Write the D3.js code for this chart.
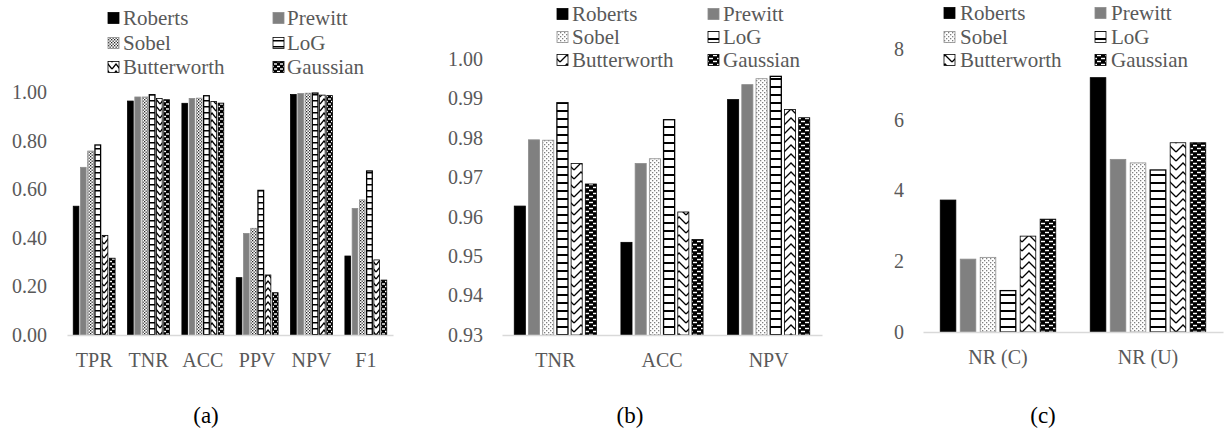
<!DOCTYPE html>
<html lang="en">
<head>
<meta charset="utf-8" />
<title>Edge detector comparison</title>
<script src="https://cdnjs.cloudflare.com/ajax/libs/d3/7.8.5/d3.min.js"></script>
<style>
  body { margin: 0; background: #fff; }
  svg text { font-family: "Liberation Serif", "Times New Roman", serif; }
</style>
</head>
<body>
<div id="chart"></div>
<script>
// series, in legend order
const series = ['Roberts', 'Prewitt', 'Sobel', 'LoG', 'Butterworth', 'Gaussian'];

// (a) all metrics
const catsA = ['TPR', 'TNR', 'ACC', 'PPV', 'NPV', 'F1'];
const robertsA     = [0.530, 0.9627, 0.9535, 0.236, 0.9897, 0.325];
const prewittA     = [0.690, 0.9795, 0.9735, 0.418, 0.9935, 0.521];
const sobelA       = [0.757, 0.9794, 0.9747, 0.439, 0.9950, 0.556];
const logA         = [0.782, 0.9889, 0.9846, 0.595, 0.9956, 0.675];
const butterworthA = [0.410, 0.9735, 0.9612, 0.247, 0.9872, 0.309];
const gaussianA    = [0.316, 0.9683, 0.9542, 0.174, 0.9851, 0.226];
const ticksA = [0, 0.2, 0.4, 0.6, 0.8, 1.0];

// (b) close-up of TNR, ACC, NPV
const catsB = ['TNR', 'ACC', 'NPV'];
const robertsB     = [0.9627, 0.9535, 0.9897];
const prewittB     = [0.9795, 0.9735, 0.9935];
const sobelB       = [0.9794, 0.9747, 0.9950];
const logB         = [0.9889, 0.9846, 0.9956];
const butterworthB = [0.9735, 0.9612, 0.9872];
const gaussianB    = [0.9683, 0.9542, 0.9851];
const ticksB = [0.93, 0.94, 0.95, 0.96, 0.97, 0.98, 0.99, 1.00];

// (c) noise ratio
const catsC = ['NR (C)', 'NR (U)'];
const robertsC     = [3.73, 7.19];
const prewittC     = [2.06, 4.88];
const sobelC       = [2.11, 4.78];
const logC         = [1.17, 4.58];
const butterworthC = [2.71, 5.35];
const gaussianC    = [3.19, 5.35];
const ticksC = [0, 2, 4, 6, 8];

const W = 1225, H = 444;
const textGray = '#595959';
const strokes = ['#000', '#8c8c8c', '#8c8c8c', '#000', '#000', '#000'];

const svg = d3.select('#chart').append('svg')
  .attr('width', W).attr('height', H);
const defs = svg.append('defs');

// Excel-like pattern fills, one set per panel (small = for the narrow bars)
function makePatterns(id, small) {
  const sob = defs.append('pattern').attr('id', id + '-2')
    .attr('patternUnits', 'userSpaceOnUse')
    .attr('width', small ? 3 : 4).attr('height', small ? 3 : 4);
  sob.append('rect').attr('width', 4).attr('height', 4).attr('fill', '#fff');
  sob.append('rect').attr('width', 1.3).attr('height', 1.3).attr('fill', small ? '#222' : '#7f7f7f');
  sob.append('rect').attr('x', small ? 1.5 : 2).attr('y', small ? 1.5 : 2)
    .attr('width', 1.3).attr('height', 1.3).attr('fill', small ? '#222' : '#7f7f7f');

  const lh = small ? 6 : 8;
  const lg = defs.append('pattern').attr('id', id + '-3')
    .attr('patternUnits', 'userSpaceOnUse').attr('width', 4).attr('height', lh);
  lg.append('rect').attr('width', 4).attr('height', lh).attr('fill', '#fff');
  lg.append('rect').attr('y', lh - 2).attr('width', 4).attr('height', small ? 1.5 : 2).attr('fill', '#000');

  const bw = small ? 8 : 14, bh = small ? 7 : 9;
  const bt = defs.append('pattern').attr('id', id + '-4')
    .attr('patternUnits', 'userSpaceOnUse').attr('width', bw).attr('height', bh);
  bt.append('rect').attr('width', bw).attr('height', bh).attr('fill', '#fff');
  bt.append('path').attr('d', `M0,${bh - 1} L${bw / 2},1 L${bw},${bh - 1}`)
    .attr('fill', 'none').attr('stroke', '#000').attr('stroke-width', 1.3);

  const gw = small ? 6 : 8, gh = small ? 5 : 6;
  const gs = defs.append('pattern').attr('id', id + '-5')
    .attr('patternUnits', 'userSpaceOnUse').attr('width', gw).attr('height', gh);
  gs.append('rect').attr('width', gw).attr('height', gh).attr('fill', '#000');
  gs.append('rect').attr('x', 1).attr('y', 0.8).attr('width', gw / 2).attr('height', 1.4).attr('fill', '#fff');
  gs.append('rect').attr('x', gw / 2 + 1).attr('y', gh / 2 + 0.8).attr('width', gw / 2 - 1).attr('height', 1.4).attr('fill', '#fff');
  gs.append('rect').attr('x', 0).attr('y', gh / 2 + 0.8).attr('width', 1).attr('height', 1.4).attr('fill', '#fff');

  return ['#000', '#808080', `url(#${id}-2)`, `url(#${id}-3)`, `url(#${id}-4)`, `url(#${id}-5)`];
}

const panels = [
  {
    id: 'pa', label: '(a)', cats: catsA, small: true,
    values: [robertsA, prewittA, sobelA, logA, butterworthA, gaussianA],
    yDomain: [0, 1], yRange: [335, 92], ticks: ticksA, fmt: d3.format('.2f'),
    xRange: [67, 393], yAxisX: 47, labelX: 206,
    legSq: [108, 273], legTx: [123, 287], legY: [18, 43, 67]
  },
  {
    id: 'pb', label: '(b)', cats: catsB, small: false,
    values: [robertsB, prewittB, sobelB, logB, butterworthB, gaussianB],
    yDomain: [0.93, 1.0], yRange: [335, 59], ticks: ticksB, fmt: d3.format('.2f'),
    xRange: [502, 822], yAxisX: 483, labelX: 630,
    legSq: [557, 708], legTx: [572, 723], legY: [14, 37, 60]
  },
  {
    id: 'pc', label: '(c)', cats: catsC, small: false,
    values: [robertsC, prewittC, sobelC, logC, butterworthC, gaussianC],
    yDomain: [0, 8], yRange: [332, 49], ticks: ticksC, fmt: d3.format('d'),
    xRange: [923, 1223], yAxisX: 904, labelX: 1043,
    legSq: [944, 1095], legTx: [960, 1111], legY: [13, 37, 60]
  }
];

panels.forEach(p => {
  const fills = makePatterns(p.id, p.small);
  const x0 = d3.scaleBand().domain(p.cats).range(p.xRange)
    .paddingInner(0.23).paddingOuter(0.115);
  const x1 = d3.scaleBand().domain(series).range([0, x0.bandwidth()]).paddingInner(0.22);
  const y = d3.scaleLinear().domain(p.yDomain).range(p.yRange);
  const g = svg.append('g');

  // y tick labels
  const ya = g.append('g').attr('transform', `translate(${p.yAxisX},0)`)
    .call(d3.axisLeft(y).tickValues(p.ticks).tickFormat(p.fmt).tickSize(0).tickPadding(0));
  ya.select('.domain').remove();
  ya.selectAll('text').attr('fill', textGray).attr('font-size', 20);

  // bars
  series.forEach((s, si) => {
    g.append('g').selectAll('rect').data(p.values[si]).join('rect')
      .attr('x', (d, i) => x0(p.cats[i]) + x1(s))
      .attr('y', d => y(d))
      .attr('width', x1.bandwidth())
      .attr('height', d => y(p.yDomain[0]) - y(d))
      .attr('fill', fills[si])
      .attr('stroke', strokes[si])
      .attr('stroke-width', si === 3 ? 1.3 : 0.8);
  });

  // category axis
  const xa = g.append('g').attr('transform', `translate(0,${y(p.yDomain[0])})`)
    .call(d3.axisBottom(x0).tickSize(0).tickSizeOuter(0).tickPadding(18));
  xa.select('.domain').attr('stroke', '#d9d9d9').attr('stroke-width', 1.5);
  xa.selectAll('text').attr('fill', textGray).attr('font-size', 20);

  // legend, two columns
  const leg = g.append('g');
  series.forEach((s, si) => {
    const col = si % 2, row = Math.floor(si / 2);
    leg.append('rect')
      .attr('x', p.legSq[col]).attr('y', p.legY[row] - 5.5)
      .attr('width', 11).attr('height', 11)
      .attr('fill', fills[si]).attr('stroke', strokes[si]).attr('stroke-width', 0.8);
    leg.append('text')
      .attr('x', p.legTx[col]).attr('y', p.legY[row]).attr('dy', '0.35em')
      .attr('fill', textGray).attr('font-size', 21)
      .text(s);
  });

  // panel caption
  g.append('text').attr('x', p.labelX).attr('y', 423)
    .attr('text-anchor', 'middle').attr('font-size', 23).attr('fill', '#000')
    .text(p.label);
});
</script>
</body>
</html>
